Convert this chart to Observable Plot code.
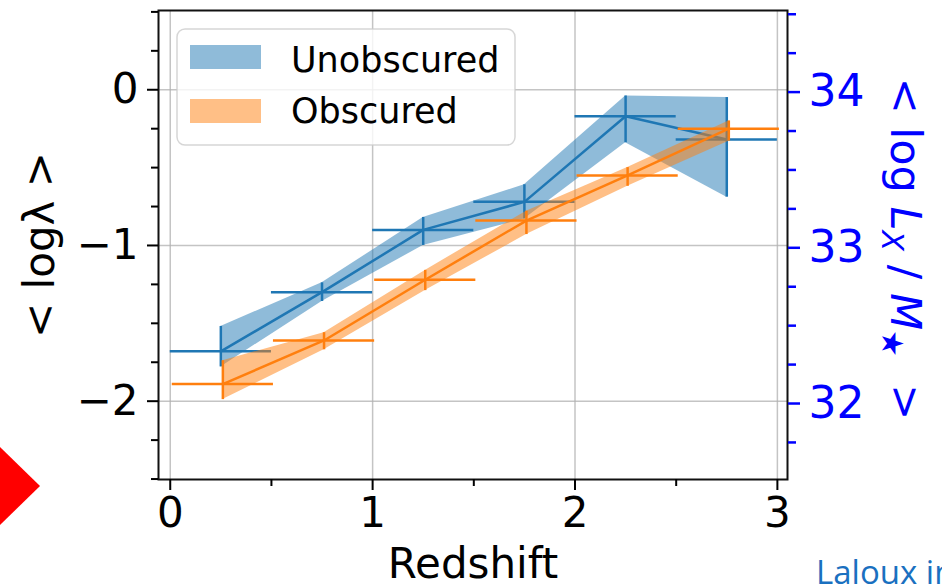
<!DOCTYPE html>
<html>
<head>
<meta charset="utf-8">
<script src="https://cdn.jsdelivr.net/npm/d3@7"></script>
<script src="https://cdn.jsdelivr.net/npm/@observablehq/plot@0.6"></script>
<style>
  html, body { margin: 0; padding: 0; background: #fff; }
  #chart { position: relative; width: 942px; height: 586px; overflow: hidden; }
</style>
</head>
<body>
<div id="chart"></div>
<script>
// ---------- data ----------
const seriesNames = ["Unobscured", "Obscured"];
const redshiftUnobscured = [0.25, 0.75, 1.25, 1.75, 2.25, 2.75];
const redshiftObscured   = [0.26, 0.76, 1.26, 1.76, 2.26, 2.76];
const binHalfWidth = 0.25;

const logLambdaUnobscured   = [-1.68, -1.30, -0.90, -0.72, -0.17, -0.32];
const logLambdaUnobscuredLo = [-1.78, -1.36, -1.00, -0.83, -0.34, -0.69];
const logLambdaUnobscuredHi = [-1.52, -1.24, -0.82, -0.61, -0.04, -0.05];

const logLambdaObscured   = [-1.89, -1.61, -1.22, -0.84, -0.55, -0.25];
const logLambdaObscuredLo = [-1.99, -1.67, -1.29, -0.93, -0.62, -0.33];
const logLambdaObscuredHi = [-1.74, -1.56, -1.16, -0.78, -0.50, -0.20];

const xMajorTicks = [0, 1, 2, 3];
const xMinorTicks = [0.5, 1.5, 2.5];
const yMajorTicks = [0, -1, -2];
const yMinorTicks = [0.5, 0.25, -0.25, -0.5, -0.75, -1.25, -1.5, -1.75, -2.25, -2.5];
const rightMajorTicks = [32, 33, 34];
const rightMinorTicks = [31.75, 32.25, 32.5, 32.75, 33.25, 33.5, 33.75, 34.25, 34.5];
const rightOffset = 34.015; // <log Lx/M*> = <log lambda> + offset

const xDomain = [-0.058, 3.05];
const yDomain = [-2.503, 0.509];

const BLUE = "#1f77b4";
const ORANGE = "#ff7f0e";

// ---------- tables ----------
function build(xs, ys, lo, hi) {
  return xs.map((x, i) => ({x, y: ys[i], lo: lo[i], hi: hi[i], x1: x - binHalfWidth, x2: x + binHalfWidth}));
}
const unob = build(redshiftUnobscured, logLambdaUnobscured, logLambdaUnobscuredLo, logLambdaUnobscuredHi);
const obs  = build(redshiftObscured, logLambdaObscured, logLambdaObscuredLo, logLambdaObscuredHi);

const fmt = d => d < 0 ? "\u2212" + Math.abs(d) : String(d);
const LW = 2.5;

function seriesMarks(data, color) {
  return [
    Plot.areaY(data, {x: "x", y1: "lo", y2: "hi", fill: color, fillOpacity: 0.5}),
    Plot.line(data, {x: "x", y: "y", stroke: color, strokeWidth: LW}),
    Plot.ruleY(data, {y: "y", x1: "x1", x2: "x2", stroke: color, strokeWidth: LW}),
    Plot.ruleX(data, {x: "x", y1: "lo", y2: "hi", stroke: color, strokeWidth: LW})
  ];
}

const svg = Plot.plot({
  width: 942,
  height: 586,
  marginLeft: 158,
  marginRight: 155,
  marginTop: 10,
  marginBottom: 107,
  x: {domain: xDomain},
  y: {domain: yDomain},
  style: {fontFamily: "DejaVu Sans", fontSize: "42px", color: "black", background: "transparent", overflow: "visible"},
  marks: [
    Plot.gridX(xMajorTicks, {stroke: "#b0b0b0", strokeOpacity: 0.75, strokeWidth: 1.5}),
    Plot.gridY(yMajorTicks, {stroke: "#b0b0b0", strokeOpacity: 0.75, strokeWidth: 1.5}),
    ...seriesMarks(unob, BLUE),
    ...seriesMarks(obs, ORANGE),
    Plot.frame({stroke: "#111", strokeWidth: 2}),
    Plot.axisX(xMajorTicks, {tickSize: 11, tickPadding: 7, strokeWidth: 2, tickFormat: fmt, label: null, fontSize: 42}),
    Plot.axisX(xMinorTicks, {tickSize: 7, strokeWidth: 2, tickFormat: () => "", label: null}),
    Plot.axisY(yMajorTicks, {tickSize: 11, tickPadding: 9, strokeWidth: 2, tickFormat: fmt, label: null, fontSize: 42}),
    Plot.axisY(yMinorTicks, {tickSize: 7, strokeWidth: 2, tickFormat: () => "", label: null}),
    Plot.axisY(rightMajorTicks.map(v => v - rightOffset), {anchor: "right", tickSize: 12, tickPadding: 9, strokeWidth: 2.5,
      color: "#0000ff", tickFormat: d => String(Math.round(d + rightOffset)), label: null, fontSize: 44}),
    Plot.axisY(rightMinorTicks.map(v => v - rightOffset), {anchor: "right", tickSize: 8, strokeWidth: 2.5,
      color: "#0000ff", tickFormat: () => "", label: null}),
    Plot.text(["Redshift"], {frameAnchor: "bottom", dy: 85, lineAnchor: "middle", fontSize: 42, fill: "black"})
  ]
});

document.getElementById("chart").appendChild(svg);
const root = d3.select(svg);

// left axis label
root.append("text")
  .attr("transform", "translate(54,245) rotate(-90)")
  .attr("text-anchor", "middle")
  .attr("font-family", "DejaVu Sans")
  .attr("font-size", 42)
  .attr("fill", "black")
  .text("< log\u03bb >");

// right axis label with math
const rl = root.append("text")
  .attr("transform", "translate(891,249) rotate(90)")
  .attr("text-anchor", "middle")
  .attr("font-family", "DejaVu Sans")
  .attr("font-size", 43)
  .attr("fill", "#0000ff");
rl.append("tspan").text("< log ");
rl.append("tspan").attr("font-style", "italic").text("L");
rl.append("tspan").attr("font-style", "italic").attr("font-size", 30).attr("dy", 9).text("X");
rl.append("tspan").attr("dy", -9).text(" / ");
rl.append("tspan").attr("font-style", "italic").text("M");
rl.append("tspan").attr("font-size", 30).attr("dy", 9).text("\u2605");
rl.append("tspan").attr("dy", -9).text("  >");

// legend
const lg = root.append("g").attr("text-anchor", "start");
lg.append("rect").attr("x", 177).attr("y", 29).attr("width", 338).attr("height", 116).attr("rx", 8)
  .attr("fill", "white").attr("fill-opacity", 0.8).attr("stroke", "#cccccc").attr("stroke-opacity", 0.8).attr("stroke-width", 1.5);
[[BLUE, 45, 72], [ORANGE, 99, 123]].forEach(([c, y, base], i) => {
  lg.append("rect").attr("x", 190).attr("y", y).attr("width", 71).attr("height", 24).attr("fill", c).attr("fill-opacity", 0.5);
  lg.append("text").attr("x", 291).attr("y", base).attr("text-anchor", "start").attr("font-family", "DejaVu Sans").attr("font-size", 35)
    .attr("fill", "black").text(seriesNames[i]);
});

// slide decorations outside the chart
root.append("polygon").attr("points", "-40,486 0,447 40,486 0,525").attr("fill", "#ff0000");
root.append("text").attr("x", 816).attr("y", 584).attr("text-anchor", "start").attr("font-family", "Open Sans").attr("font-size", 33)
  .attr("fill", "#1a70c0").text("Laloux in");
</script>
</body>
</html>
